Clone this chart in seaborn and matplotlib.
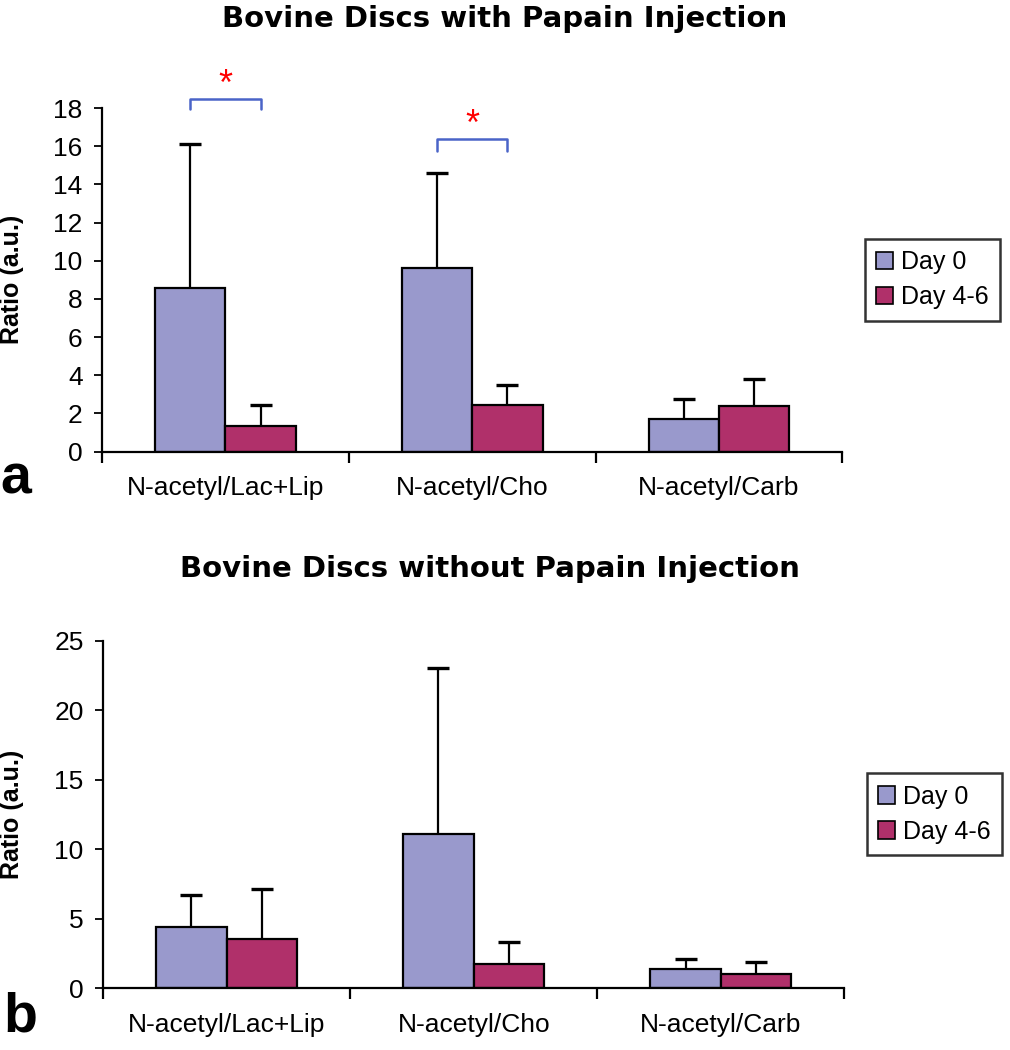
import pandas as pd
import matplotlib.pyplot as plt
import seaborn as sns
import numpy as np

# Ratios
categories = ["N-acetyl/Lac+Lip", "N-acetyl/Cho", "N-acetyl/Carb"]
groups = ["Day 0", "Day 4-6"]

papain_day0 = [8.55, 9.6, 1.7]
papain_day46 = [1.35, 2.45, 2.4]
papain_day0_err = [7.55, 5.0, 1.05]
papain_day46_err = [1.1, 1.05, 1.4]

nopapain_day0 = [4.4, 11.1, 1.4]
nopapain_day46 = [3.55, 1.7, 1.0]
nopapain_day0_err = [2.3, 11.9, 0.7]
nopapain_day46_err = [3.6, 1.6, 0.9]

colors = {"Day 0": "#9999CC", "Day 4-6": "#B0306A"}

sns.set_style("ticks")
plt.rcParams['font.family'] = ['Liberation Sans', 'DejaVu Sans']
for k in ["text.color", "axes.labelcolor", "xtick.color", "ytick.color", "axes.edgecolor"]:
    plt.rcParams[k] = "black"


def make_df(d0, d46):
    return pd.DataFrame({
        "category": categories * 2,
        "group": [groups[0]] * 3 + [groups[1]] * 3,
        "ratio": list(d0) + list(d46),
    })


def draw_panel(ax, d0, d46, e0, e46, ymax, ystep):
    df = make_df(d0, d46)
    sns.barplot(data=df, x="category", y="ratio", hue="group", order=categories,
                hue_order=groups, palette=colors, width=0.57, errorbar=None,
                edgecolor="black", linewidth=1.6, saturation=1, ax=ax)
    errs = list(e0) + list(e46)
    vals = list(d0) + list(d46)
    patches = [p for p in ax.patches if p.get_height() > 0][:6]
    for p, v, e in zip(patches, vals, errs):
        xc = p.get_x() + p.get_width() / 2
        _, caps, _ = ax.errorbar(xc, v, yerr=[[0], [e]], fmt="none", ecolor="black",
                                 elinewidth=1.6, capsize=8, capthick=2.4, zorder=1)
        for c in caps:
            if abs(c.get_ydata()[0] - v) < 1e-9:
                c.set_visible(False)
    ax.set_xlim(-0.5, 2.5)
    ax.set_ylim(0, ymax)
    ax.set_yticks(np.arange(0, ymax + 0.1, ystep))
    ax.set_xticks([-0.5, 0.5, 1.5, 2.5])
    ax.set_xticklabels([])
    ax.set_xticks([0, 1, 2], minor=True)
    ax.set_xticklabels(categories, minor=True, fontsize=19)
    ax.tick_params(axis="x", which="major", direction="out", length=8, width=1.6)
    ax.tick_params(axis="x", which="minor", length=0, pad=18)
    ax.tick_params(axis="y", direction="out", length=6, width=1.3, labelsize=19, pad=8)
    for s in ["top", "right"]:
        ax.spines[s].set_visible(False)
    for s in ["left", "bottom"]:
        ax.spines[s].set_linewidth(1.6)
    ax.set_xlabel("")
    ax.set_ylabel("Ratio (a.u.)", fontsize=18, fontweight="bold")
    ax.yaxis.set_label_coords(-0.106, 0.5)
    ax.get_legend().remove()
    return patches


fig = plt.figure(figsize=(10.1, 10.5), dpi=100)
ax_a = fig.add_axes([0.101, 0.570, 0.733, 0.327])
ax_b = fig.add_axes([0.102, 0.059, 0.734, 0.331])

pa = draw_panel(ax_a, papain_day0, papain_day46, papain_day0_err, papain_day46_err, 18, 2)
pb = draw_panel(ax_b, nopapain_day0, nopapain_day46, nopapain_day0_err, nopapain_day46_err, 25, 5)

# significance brackets
brackets = [(0, 18.5, 17.95, 19.2), (1, 16.4, 15.75, 17.1)]
for idx, ytop, yleg, ystar in brackets:
    x1 = pa[idx].get_x() + pa[idx].get_width() / 2
    x2 = pa[idx + 3].get_x() + pa[idx + 3].get_width() / 2
    ax_a.plot([x1, x1, x2, x2], [yleg, ytop, ytop, yleg], color="#4A64C8",
              linewidth=1.8, clip_on=False)
    ax_a.text((x1 + x2) / 2, ystar, "*", color="red", fontsize=26,
              ha="center", va="center", clip_on=False)

# legends
for ax in [ax_a, ax_b]:
    handles = [plt.Rectangle((0, 0), 1, 1, facecolor=colors[g], edgecolor="black",
                             linewidth=1.2) for g in groups]
    leg = ax.legend(handles, groups, loc="center left", bbox_to_anchor=(1.03, 0.5),
                    fontsize=18, frameon=True, fancybox=False, edgecolor="black",
                    handlelength=0.7, handleheight=0.7, handletextpad=0.3,
                    borderpad=0.45, labelspacing=0.45, borderaxespad=0)
    leg.get_frame().set_linewidth(1.8)

fig.text(0.5, 0.982, "Bovine Discs with Papain Injection", fontsize=21,
         fontweight="bold", ha="center", va="center", family="DejaVu Sans")
fig.text(0.485, 0.458, "Bovine Discs without Papain Injection", fontsize=21,
         fontweight="bold", ha="center", va="center", family="DejaVu Sans")
fig.text(0.0, 0.543, "a", fontsize=40, fontweight="bold", ha="left", va="center")
fig.text(0.003, 0.031, "b", fontsize=40, fontweight="bold", ha="left", va="center")

plt.savefig("out.png", dpi=100)
plt.close()
